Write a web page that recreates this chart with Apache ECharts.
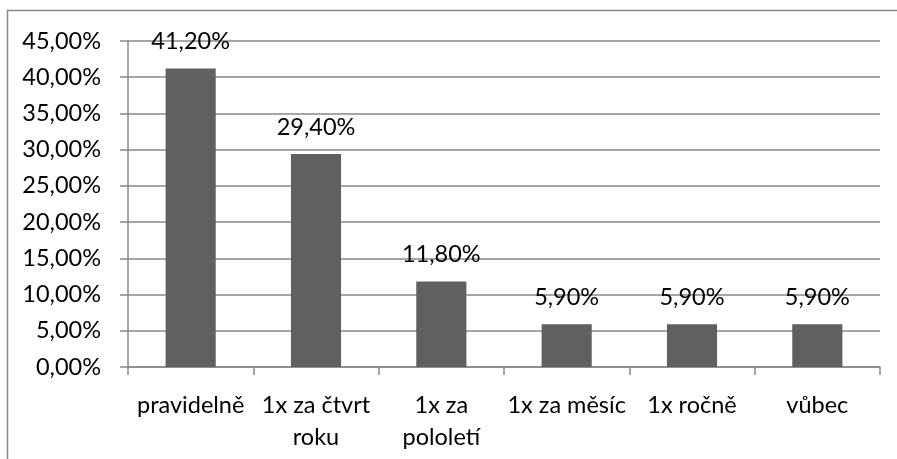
<!DOCTYPE html>
<html><head><meta charset="utf-8">
<script src="https://cdn.jsdelivr.net/npm/echarts@6/dist/echarts.min.js"></script>
<style>html,body{margin:0;padding:0;background:#fff;}#c{width:897px;height:459px;}</style>
</head><body><div id="c"></div>
<script>
const categories = ['pravidelně', '1x za čtvrt\nroku', '1x za\npololetí', '1x za měsíc', '1x ročně', 'vůbec'];
const values = [41.2, 29.4, 11.8, 5.9, 5.9, 5.9];
const yMin = 0, yMax = 45, yStep = 5;
const FONT = 'Lato';
const FS = 23.5;
const fmt = v => v.toFixed(2).replace('.', ',') + '%';
const chart = echarts.init(document.getElementById('c'), null, {renderer: 'canvas'});
chart.setOption({
  animation: false,
  graphic: [{type: 'rect', shape: {x: 7.5, y: 10.5, width: 900, height: 470}, style: {fill: 'none', stroke: '#888', lineWidth: 1.5}, z: -1}],
  grid: {left: 128, right: 17, top: 41, bottom: 92},
  xAxis: {
    type: 'category', data: categories,
    axisLine: {lineStyle: {color: '#888', width: 1.5}},
    axisTick: {show: true, length: 8, lineStyle: {color: '#888', width: 1.5}},
    axisLabel: {color: '#000', fontFamily: FONT, fontSize: FS, lineHeight: 32, margin: 22, interval: 0}
  },
  yAxis: {
    type: 'value', min: yMin, max: yMax, interval: yStep,
    axisLine: {show: true, lineStyle: {color: '#888', width: 1.5}},
    axisTick: {show: true, length: 8, lineStyle: {color: '#888', width: 1.5}},
    splitLine: {lineStyle: {color: '#888', width: 1.5}},
    axisLabel: {color: '#000', fontFamily: FONT, fontSize: FS, margin: 27, formatter: fmt}
  },
  series: [{
    type: 'bar', data: values, barWidth: '40%',
    itemStyle: {color: '#606060'},
    label: {show: true, position: 'top', distance: 15, color: '#000', fontFamily: FONT, fontSize: FS, formatter: p => fmt(p.value)}
  }]
});
</script></body></html>
